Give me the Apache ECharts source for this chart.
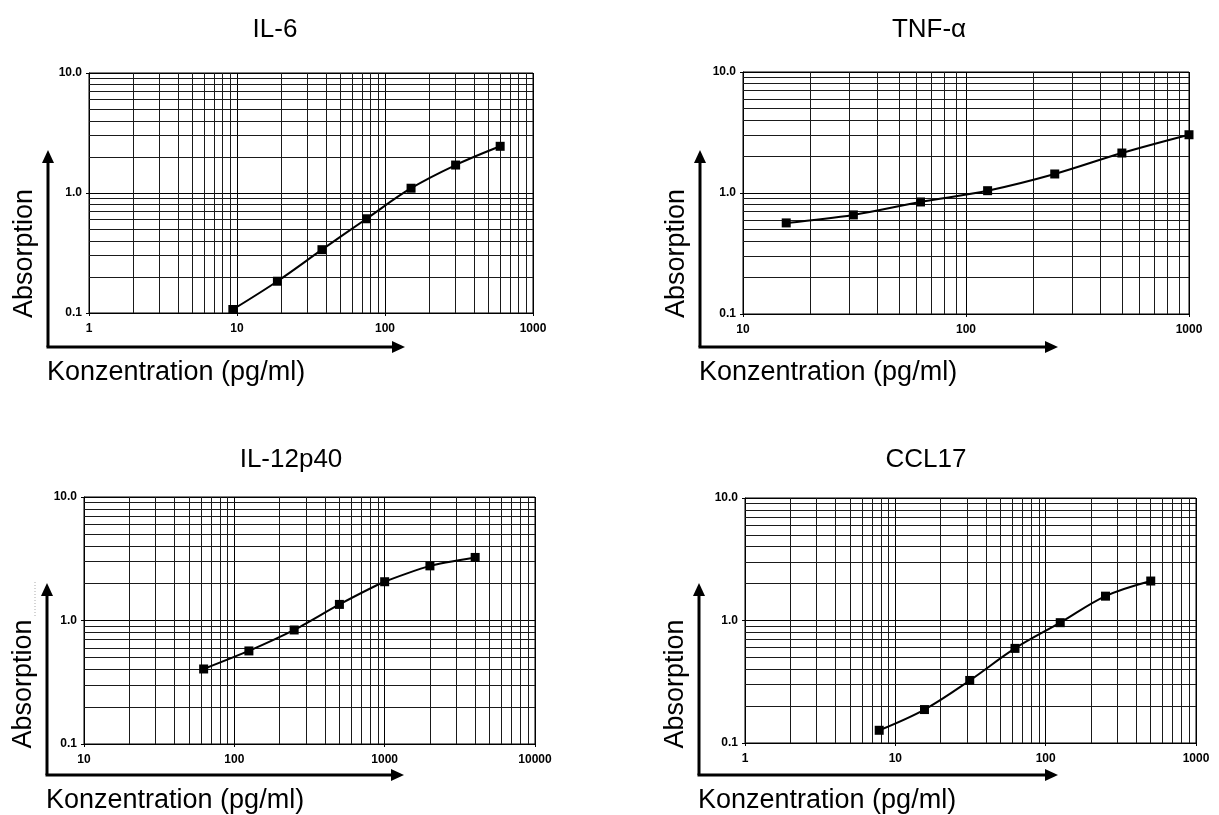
<!DOCTYPE html>
<html>
<head>
<meta charset="utf-8">
<script src="https://cdn.jsdelivr.net/npm/echarts@6/dist/echarts.min.js"></script>
<style>
  html, body { margin: 0; padding: 0; background: #fff; }
  #main { width: 1219px; height: 815px; }
</style>
</head>
<body>
<div id="main"></div>
<script>
// standard curves
const titles = ['IL-6', 'TNF-α', 'IL-12p40', 'CCL17'];
const xIL6 = [9.375, 18.75, 37.5, 75, 150, 300, 600];
const yIL6 = [0.107, 0.184, 0.337, 0.61, 1.096, 1.71, 2.45];
const xTNF = [15.625, 31.25, 62.5, 125, 250, 500, 1000];
const yTNF = [0.566, 0.659, 0.843, 1.045, 1.436, 2.14, 3.03];
const xIL12 = [62.5, 125, 250, 500, 1000, 2000, 4000];
const yIL12 = [0.405, 0.567, 0.838, 1.35, 2.06, 2.77, 3.24];
const xCCL17 = [7.8125, 15.625, 31.25, 62.5, 125, 250, 500];
const yCCL17 = [0.127, 0.1875, 0.324, 0.592, 0.96, 1.58, 2.10];
const xRanges = [[1, 1000], [10, 1000], [10, 10000], [1, 1000]];
const yRange = [0.1, 10];
const yName = 'Absorption';
const xName = 'Konzentration (pg/ml)';

const xs = [xIL6, xTNF, xIL12, xCCL17];
const ys = [yIL6, yTNF, yIL12, yCCL17];

// panel layout (pixels)
const panels = [
  { grid: { left: 89, top: 73, width: 444, height: 240 }, title: [270, 12], ox: 48, oy: 347, top: 150, tip: 405 },
  { grid: { left: 743, top: 72, width: 446, height: 242 }, title: [924, 12], ox: 700, oy: 347, top: 150, tip: 1058 },
  { grid: { left: 84, top: 497, width: 451, height: 247 }, title: [286, 442], ox: 47, oy: 775, top: 583, tip: 404 },
  { grid: { left: 745, top: 498, width: 451, height: 245 }, title: [921, 442], ox: 699, oy: 775, top: 583, tip: 1058 }
];

const font = '"Liberation Sans", Arial, Helvetica, sans-serif';

// 2..9 within every decade of a range
function minorValues(range) {
  let out = [];
  for (let d = Math.round(Math.log10(range[0])); d < Math.round(Math.log10(range[1])); d++) {
    for (let k = 2; k <= 9; k++) out.push(k * Math.pow(10, d));
  }
  return out;
}

let grid = [], xAxis = [], yAxis = [], series = [], title = [], graphic = [];

panels.forEach(function (p, i) {
  grid.push(Object.assign({ show: true, borderColor: '#000', borderWidth: 1, backgroundColor: 'transparent' }, p.grid));
  title.push({
    text: titles[i], left: p.title[0], top: p.title[1], textAlign: 'center',
    textStyle: { fontFamily: font, fontSize: 26, fontWeight: 'normal', color: '#000' }
  });
  xAxis.push({
    type: 'log', logBase: 10, gridIndex: i, min: xRanges[i][0], max: xRanges[i][1],
    axisLine: { show: true, lineStyle: { color: '#000', width: 1 } },
    axisTick: { show: true, length: 3, lineStyle: { color: '#000' } },
    axisLabel: {
      margin: 10, color: '#000', fontFamily: font, fontSize: 12, fontWeight: 'bold',
      formatter: function (v) { return String(Math.round(v)); }
    },
    splitLine: { show: true, lineStyle: { color: '#000', width: 1 } }
  });
  yAxis.push({
    type: 'log', logBase: 10, gridIndex: i, min: yRange[0], max: yRange[1],
    axisLine: { show: true, lineStyle: { color: '#000', width: 1 } },
    axisTick: { show: true, length: 3, lineStyle: { color: '#000' } },
    axisLabel: {
      margin: 7, color: '#000', fontFamily: font, fontSize: 12, fontWeight: 'bold',
      formatter: function (v) { return v.toFixed(1); }
    },
    splitLine: { show: true, lineStyle: { color: '#000', width: 1 } }
  });

  let marks = minorValues(xRanges[i]).map(function (v) { return { xAxis: v }; })
    .concat(minorValues(yRange).map(function (v) { return { yAxis: v }; }));

  series.push({
    type: 'line', xAxisIndex: i, yAxisIndex: i, z: 3,
    data: xs[i].map(function (x, j) { return [x, ys[i][j]]; }),
    smooth: i === 2 ? 0.2 : 0.35,
    symbol: 'rect', symbolSize: 9,
    lineStyle: { color: '#000', width: 2 },
    itemStyle: { color: '#000' },
    markLine: {
      silent: true, z: 1, animation: false,
      symbol: ['none', 'none'],
      label: { show: false },
      lineStyle: { color: '#1a1a1a', width: 1, type: 'solid' },
      data: marks
    }
  });

  // arrows and axis captions
  graphic.push(
    { type: 'line', shape: { x1: p.ox, y1: p.oy, x2: p.ox, y2: p.top + 10 }, style: { stroke: '#000', lineWidth: 3 } },
    { type: 'polygon', shape: { points: [[p.ox, p.top], [p.ox - 6, p.top + 13], [p.ox + 6, p.top + 13]] }, style: { fill: '#000' } },
    { type: 'line', shape: { x1: p.ox - 1.5, y1: p.oy, x2: p.tip - 10, y2: p.oy }, style: { stroke: '#000', lineWidth: 3 } },
    { type: 'polygon', shape: { points: [[p.tip, p.oy], [p.tip - 13, p.oy - 6], [p.tip - 13, p.oy + 6]] }, style: { fill: '#000' } },
    {
      type: 'text', x: p.ox - 23, y: (p.top + p.oy) / 2 + 5, rotation: Math.PI / 2,
      style: { text: yName, font: '27px ' + font, fill: '#000', textAlign: 'center', textVerticalAlign: 'middle' }
    },
    {
      type: 'text', x: p.ox - 1, y: p.oy + 26,
      style: { text: xName, font: '27px ' + font, fill: '#000', textAlign: 'left', textVerticalAlign: 'middle' }
    }
  );
});

// faint dotted stroke beside the third panel's arrow
graphic.push({
  type: 'line', shape: { x1: 35, y1: 582, x2: 35, y2: 618 },
  style: { stroke: '#aaa', lineWidth: 1, lineDash: [1, 2] }
});

const chart = echarts.init(document.getElementById('main'));
chart.setOption({
  animation: false,
  backgroundColor: '#fff',
  title: title,
  grid: grid,
  xAxis: xAxis,
  yAxis: yAxis,
  series: series,
  graphic: graphic
});
</script>
</body>
</html>
